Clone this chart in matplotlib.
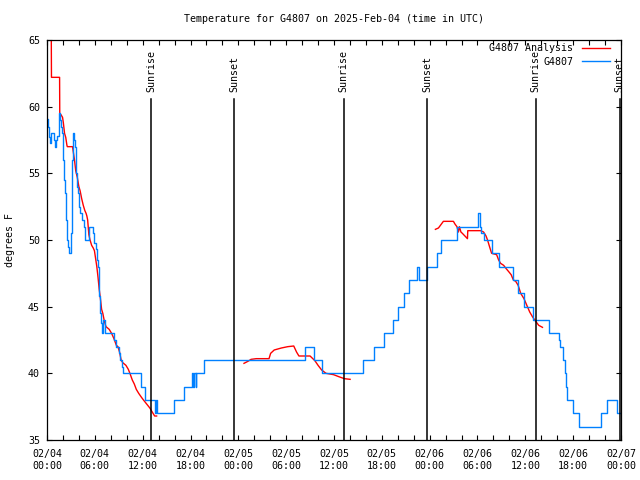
import matplotlib
matplotlib.use('Agg')
import matplotlib.pyplot as plt

# ---- data (hours since 2025-02-04 00:00 UTC, degrees F) ----
obs_hours = [0.0, 0.13, 0.25, 0.4, 0.5, 0.88, 0.98, 1.1, 1.25, 1.45, 1.6, 1.75,
             1.89, 1.99, 2.14, 2.27, 2.35, 2.43, 2.55, 2.68, 2.77, 2.98, 3.08, 3.18,
             3.27, 3.4, 3.55, 3.69, 3.78, 3.86, 3.96, 4.2, 4.4, 4.6, 4.75, 5.29,
             5.75, 5.92, 6.1, 6.23, 6.36, 6.46, 6.55, 6.67, 6.8, 6.9, 7.05, 7.3,
             8.43, 8.69, 9.0, 9.19, 9.38, 9.48, 11.8, 12.27, 13.6, 13.72, 13.85,
             15.9, 17.2, 18.2, 18.35, 18.5, 18.65, 18.75, 19.7, 32.3, 33.55, 34.55,
             39.65, 41.0, 42.3, 43.37, 44.0, 44.75, 45.38, 46.39, 46.64, 47.65,
             48.9, 49.41, 51.42, 54.07, 54.32, 54.5, 54.76, 55.83, 56.71, 58.47,
             59.04, 59.79, 60.93, 62.94, 64.2, 64.35, 64.7, 64.95, 65.08, 65.2,
             66.03, 66.72, 69.49, 70.24, 71.5, 72.0]
obs_temp = [59.1, 58.5, 57.7, 57.3, 58.0, 57.5, 57.0, 57.5, 57.8, 59.5, 59.0, 58.5,
            58.0, 56.0, 54.5, 53.5, 52.5, 51.5, 50.0, 49.5, 49.0, 50.5, 53.0, 56.0,
            58.0, 57.5, 57.0, 55.0, 54.0, 53.5, 52.5, 52.0, 51.5, 51.0, 50.0, 51.0,
            50.5, 49.8, 49.3, 48.5, 48.0, 46.5, 45.8, 44.5, 43.8, 43.0, 44.0, 43.0,
            42.5, 42.0, 41.5, 41.0, 40.5, 40.0, 39.0, 38.0, 37.0, 38.0, 37.0,
            38.0, 39.0, 40.0, 39.0, 40.0, 39.0, 40.0, 41.0, 42.0, 41.0, 40.0,
            41.0, 42.0, 43.0, 44.0, 45.0, 46.0, 47.0, 48.0, 47.0, 48.0,
            49.0, 50.0, 51.0, 52.0, 51.0, 50.5, 50.0, 49.0, 48.0, 47.0,
            46.0, 45.0, 44.0, 43.0, 42.5, 42.0, 41.0, 40.0, 39.0, 38.0,
            37.0, 36.0, 37.0, 38.0, 37.0, 37.0]

ana_hours_1 = [0.54, 0.56, 1.58, 1.6, 1.75, 1.95, 2.05, 2.2, 2.35, 2.5, 2.55, 3.2,
               3.3, 3.45, 3.6, 3.8, 4.0, 4.15, 4.35, 4.55, 4.75, 4.9, 5.0, 5.1,
               5.25, 5.4, 5.6, 5.8, 5.95, 6.1, 6.25, 6.4, 6.55, 6.7, 6.85, 7.0,
               7.2, 7.4, 7.8, 8.1, 8.4, 8.7, 8.9, 9.1, 9.3, 9.5, 9.9, 10.2, 10.4,
               10.7, 10.95, 11.2, 11.5, 11.85, 12.1, 12.5, 12.9, 13.1, 13.3, 13.5,
               13.75]
ana_temp_1 = [64.9, 62.2, 62.2, 59.5, 59.4, 59.2, 58.8, 58.0, 57.7, 57.1, 57.0, 57.0,
              56.6, 56.0, 55.2, 54.7, 54.0, 53.7, 53.1, 52.6, 52.2, 52.0, 51.8, 51.5,
              50.4, 50.0, 49.6, 49.4, 49.2, 48.6, 48.0, 47.2, 46.3, 45.6, 44.8, 44.5,
              43.9, 43.5, 43.3, 43.0, 42.6, 42.1, 42.0, 41.6, 41.0, 40.8, 40.6, 40.3, 40.0,
              39.5, 39.2, 38.8, 38.5, 38.2, 38.0, 37.7, 37.4, 37.2, 37.0, 36.8,
              36.8]
ana_hours_2 = [24.71, 25.2, 25.6, 26.25, 27.85, 28.05, 28.5, 29.4, 30.2, 30.95, 31.3,
               31.6, 33.0, 33.6, 34.0, 34.45, 35.0, 35.95, 36.6, 37.3, 38.02]
ana_temp_2 = [40.75, 40.9, 41.05, 41.1, 41.1, 41.5, 41.75, 41.9, 42.0, 42.05, 41.6,
              41.3, 41.3, 40.95, 40.6, 40.25, 40.0, 39.9, 39.75, 39.6, 39.55]
ana_hours_3 = [48.72, 49.1, 49.35, 49.72, 50.98, 51.17, 51.42, 51.61, 51.73, 51.92,
               52.1, 52.42, 52.74, 52.78, 54.38, 54.76, 55.07, 55.26, 55.51, 55.77,
               56.4, 56.65, 56.9, 57.28, 57.53, 57.95, 58.22, 58.5, 58.79, 59.1,
               59.42, 59.83, 60.26, 60.55, 60.89, 61.3, 61.68, 62.15]
ana_temp_3 = [50.8, 50.9, 51.1, 51.4, 51.4, 51.2, 51.0, 50.6, 51.0, 50.6,
              50.5, 50.3, 50.1, 50.7, 50.7, 50.6, 50.3, 50.0, 49.5, 49.0,
              48.9, 48.5, 48.25, 48.1, 47.9, 47.6, 47.4, 47.0, 46.9, 46.6,
              46.0, 45.6, 45.0, 44.6, 44.25, 43.9, 43.6, 43.45]

sun_hours = [13.1, 23.5, 37.2, 47.65, 61.3, 71.85]
sun_labels = ['Sunrise', 'Sunset', 'Sunrise', 'Sunset', 'Sunrise', 'Sunset']

xtick_hours = [0, 6, 12, 18, 24, 30, 36, 42, 48, 54, 60, 66, 72]
xtick_labels = ['02/04\n00:00', '02/04\n06:00', '02/04\n12:00', '02/04\n18:00',
                '02/05\n00:00', '02/05\n06:00', '02/05\n12:00', '02/05\n18:00',
                '02/06\n00:00', '02/06\n06:00', '02/06\n12:00', '02/06\n18:00',
                '02/07\n00:00']
xminor_hours = list(range(0, 73, 2))
ytick_values = [35, 40, 45, 50, 55, 60, 65]

title = 'Temperature for G4807 on 2025-Feb-04 (time in UTC)'
ylabel = 'degrees F'

# ---- drawing ----
plt.rcParams['font.family'] = ['DejaVu Sans Mono']
FS = 7.2
fig = plt.figure(figsize=(6.4, 4.8), dpi=100)
ax = fig.add_axes([47 / 640, 40 / 480, 574 / 640, 400 / 480])
ax.set_xlim(0, 72)
ax.set_ylim(35, 65)

red = '#ff0000'
blue = '#0080ff'
ax.plot(ana_hours_1, ana_temp_1, color=red, lw=1.0, label='G4807 Analysis')
ax.plot(ana_hours_2, ana_temp_2, color=red, lw=1.0)
ax.plot(ana_hours_3, ana_temp_3, color=red, lw=1.0)
ax.plot(obs_hours, obs_temp, color=blue, lw=1.0, drawstyle='steps-post', label='G4807')

for t, lab in zip(sun_hours, sun_labels):
    ax.plot([t, t], [35, 60.6], color='black', lw=1.1)
    ax.text(t, 61.1, lab, rotation=90, ha='center', va='bottom', fontsize=FS)

ax.set_xticks(xtick_hours)
ax.set_xticklabels(xtick_labels, fontsize=FS, linespacing=1.3)
ax.set_xticks(xminor_hours, minor=True)
ax.set_yticks(ytick_values)
ax.set_yticklabels([str(v) for v in ytick_values], fontsize=FS)
ax.tick_params(axis='both', which='both', direction='in', top=True, right=True,
               length=3.3, width=0.8)
ax.tick_params(axis='x', which='major', pad=6.5)
ax.tick_params(axis='y', which='major', pad=5)
for s in ax.spines.values():
    s.set_linewidth(0.9)

fig.text(334.5 / 640, 1 - 19 / 480, title, ha='center', va='center', fontsize=FS)
fig.text(10 / 640, 1 - 240 / 480, ylabel, ha='center', va='center', rotation=90,
         fontsize=FS)

leg = ax.legend(loc='upper right', bbox_to_anchor=(610 / 640, 1 - 43 / 480),
                bbox_transform=fig.transFigure, frameon=False, markerfirst=False,
                fontsize=FS, handlelength=2.8, handletextpad=0.9, labelspacing=0.38,
                borderpad=0, borderaxespad=0)

fig.savefig('out.png', dpi=100)
